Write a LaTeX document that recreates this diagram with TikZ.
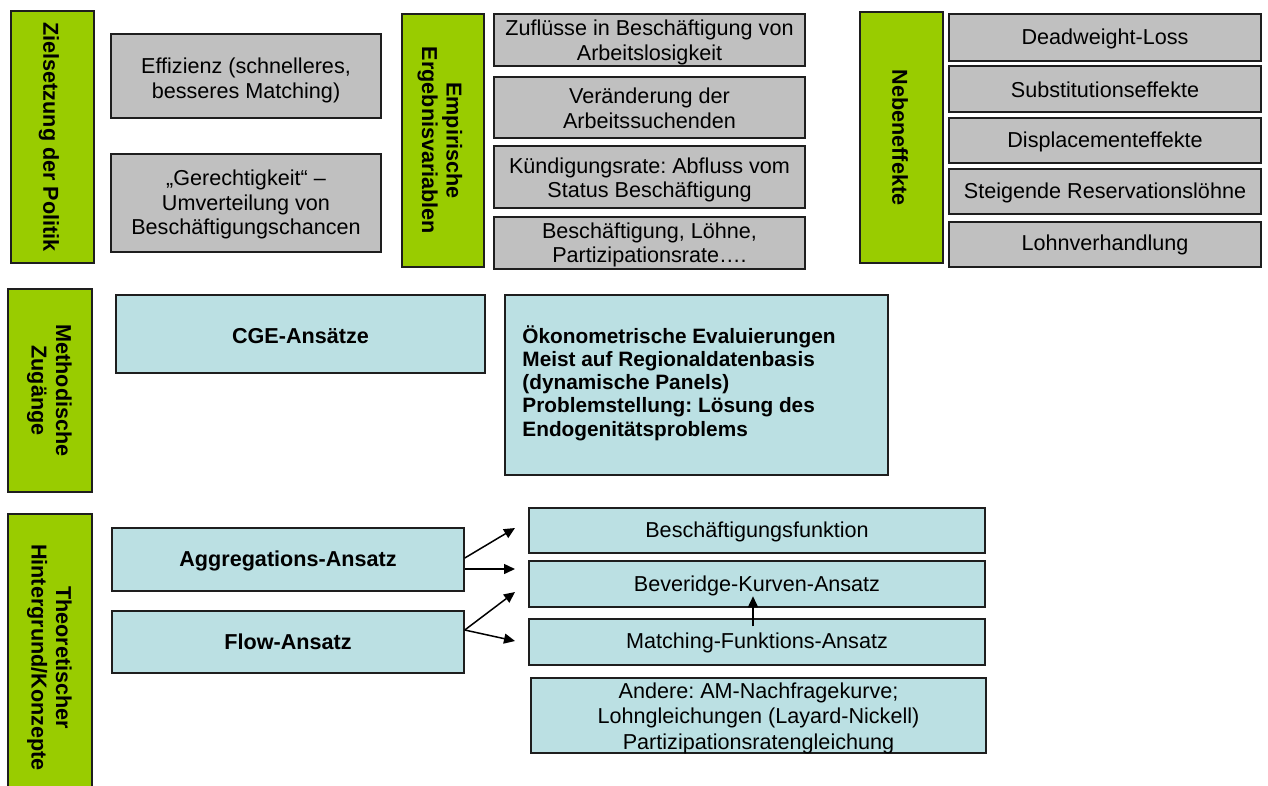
\documentclass[tikz,border=0pt]{standalone}
\usepackage{fontspec}
\setmainfont{Liberation Sans}
\usetikzlibrary{arrows.meta}
\definecolor{lgreen}{RGB}{153,204,0}
\definecolor{lgray}{RGB}{192,192,192}
\definecolor{lblue}{RGB}{187,224,227}
\definecolor{edge}{RGB}{30,30,30}
\tikzset{
  base/.style={draw=edge, line width=1.5pt, inner sep=0pt},
  greenbox/.style={base, fill=lgreen, rotate=-90},
  graybox/.style={base, fill=lgray},
  bluebox/.style={base, fill=lblue},
  lbl/.style={inner sep=0pt, align=center, font=\fontsize{21.6pt}{24.5pt}\selectfont},
  lblb/.style={lbl, font=\fontsize{21.6pt}{24.5pt}\selectfont\bfseries},
  glbl/.style={lblb, rotate=-90},
  arr/.style={draw=black, line width=1.5pt, -{Triangle[length=11pt,width=10pt]}}
}
\begin{document}
\frenchspacing
\begin{tikzpicture}[x=1pt,y=-1pt]
\useasboundingbox (0,0) rectangle (1268,785);
\fill[white] (0,0) rectangle (1268,785);
\clip (0,0) rectangle (1268,785);

% green category labels
\node[greenbox, minimum width=252pt, minimum height=83pt] (z1) at (52.5,137) {};
\node[glbl] (z1-t) at ([xshift=-3.5pt]z1.center) {Zielsetzung der Politik};
\node[greenbox, minimum width=253pt, minimum height=82pt] (z2) at (443,140.5) {};
\node[glbl] (z2-t) at ([xshift=-3pt]z2.center) {Empirische\\Ergebnisvariablen};
\node[greenbox, minimum width=251pt, minimum height=83pt] (z3) at (901.5,137.5) {};
\node[glbl] (z3-t) at ([xshift=-1.5pt]z3.center) {Nebeneffekte};
\node[greenbox, minimum width=203pt, minimum height=84pt] (z4) at (50,390.5) {};
\node[glbl] (z4-t) at ([xshift=-0.5pt]z4.center) {Methodische\\Zugänge};
\node[greenbox, minimum width=287pt, minimum height=84pt] (z5) at (50,657.5) {};
\node[glbl] (z5-t) at ([xshift=-0.5pt]z5.center) {Theoretischer\\Hintergrund/Konzepte};

% Zielsetzung
\node[graybox, minimum width=270pt, minimum height=84pt] (g1) at (246,76) {};
\node[lbl] (g1-t) at ([yshift=-4.5pt]g1.center) {Effizienz (schnelleres,\\besseres Matching)};
\node[graybox, minimum width=270pt, minimum height=98pt] (g2) at (246,203) {};
\node[lbl] (g2-t) at ([yshift=-1.5pt]g2.center) {„Gerechtigkeit“ –\\Umverteilung von\\Beschäftigungschancen};

% Empirische Ergebnisvariablen
\node[graybox, minimum width=311pt, minimum height=52pt] (e1) at (649.5,40) {};
\node[lbl] (e1-t) at ([yshift=-2.3pt]e1.center) {Zuflüsse in Beschäftigung von\\Arbeitslosigkeit};
\node[graybox, minimum width=311pt, minimum height=61pt] (e2) at (649.5,107.5) {};
\node[lbl] (e2-t) at ([yshift=-1pt]e2.center) {Veränderung der\\Arbeitssuchenden};
\node[graybox, minimum width=311pt, minimum height=62pt] (e3) at (649.5,177) {};
\node[lbl] (e3-t) at ([yshift=-3pt]e3.center) {Kündigungsrate: Abfluss vom\\Status Beschäftigung};
\node[graybox, minimum width=311pt, minimum height=52pt] (e4) at (649.5,243) {};
\node[lbl] (e4-t) at ([yshift=-2pt]e4.center) {Beschäftigung, Löhne,\\Partizipationsrate….};

% Nebeneffekte
\node[graybox, minimum width=312pt, minimum height=47pt] (n1) at (1105,37.5) {};
\node[lbl] (n1-t) at ([yshift=-1.5pt]n1.center) {Deadweight-Loss};
\node[graybox, minimum width=312pt, minimum height=46pt] (n2) at (1105,89) {};
\node[lbl] (n2-t) at ([yshift=-0.5pt]n2.center) {Substitutionseffekte};
\node[graybox, minimum width=312pt, minimum height=45pt] (n3) at (1105,140.5) {};
\node[lbl] (n3-t) at ([yshift=-1pt]n3.center) {Displacementeffekte};
\node[graybox, minimum width=312pt, minimum height=45pt] (n4) at (1105,191.5) {};
\node[lbl] (n4-t) at ([yshift=-1.5pt]n4.center) {Steigende Reservationslöhne};
\node[graybox, minimum width=312pt, minimum height=45pt] (n5) at (1105,244.5) {};
\node[lbl] (n5-t) at ([yshift=-0.5pt]n5.center) {Lohnverhandlung};

% Methodische Zugänge
\node[bluebox, minimum width=369pt, minimum height=78pt] (cge) at (300.5,334) {};
\node[lblb] (cge-t) at ([yshift=-2pt]cge.center) {CGE-Ansätze};
\node[bluebox, minimum width=383pt, minimum height=180pt] (oek) at (696.5,385) {};
\node[lblb, align=left, font=\fontsize{20.8pt}{23.3pt}\selectfont\bfseries, anchor=west]
  (oek-t) at ([xshift=18pt,yshift=2pt]oek.west)
  {Ökonometrische Evaluierungen\\Meist auf Regionaldatenbasis\\(dynamische Panels)\\Problemstellung: Lösung des\\Endogenitätsproblems};

% Theoretischer Hintergrund
\node[bluebox, minimum width=352pt, minimum height=63pt] (agg) at (288,559.5) {};
\node[lblb] (agg-t) at ([yshift=-1.5pt]agg.center) {Aggregations-Ansatz};
\node[bluebox, minimum width=352pt, minimum height=62pt] (flow) at (288,642) {};
\node[lblb] (flow-t) at (flow.center) {Flow-Ansatz};
\node[bluebox, minimum width=456pt, minimum height=45pt] (r1) at (757,530.5) {};
\node[lbl] (r1-t) at ([yshift=-1pt]r1.center) {Beschäftigungsfunktion};
\node[bluebox, minimum width=456pt, minimum height=46pt] (r2) at (757,584) {};
\node[lbl] (r2-t) at ([yshift=-1.5pt]r2.center) {Beveridge-Kurven-Ansatz};
\node[bluebox, minimum width=456pt, minimum height=46pt] (r3) at (757,642) {};
\node[lbl] (r3-t) at ([yshift=-1pt]r3.center) {Matching-Funktions-Ansatz};
\node[bluebox, minimum width=455pt, minimum height=75pt] (r4) at (758.5,715.5) {};
\node[lbl, font=\fontsize{21.6pt}{25.5pt}\selectfont] (r4-t) at ([yshift=-2.8pt]r4.center) {Andere: AM-Nachfragekurve;\\Lohngleichungen (Layard-Nickell)\\Partizipationsratengleichung};

% arrow ends
\coordinate (t1) at (515,528);
\coordinate (t2) at (515,569);
\coordinate (t3) at (515,592);
\coordinate (t4) at (515,641);

\draw[arr] ([yshift=1.5pt]agg.east) -- (t1);
\draw[arr] ([yshift=-9.5pt]agg.east) -- (t2);
\draw[arr] ([yshift=12pt]flow.east) -- (t3);
\draw[arr] ([yshift=12pt]flow.east) -- (t4);
\draw[arr] ([xshift=-4pt,yshift=-8pt]r3.north) -- ([xshift=-4pt,yshift=22pt]r3.north);
\end{tikzpicture}
\end{document}
